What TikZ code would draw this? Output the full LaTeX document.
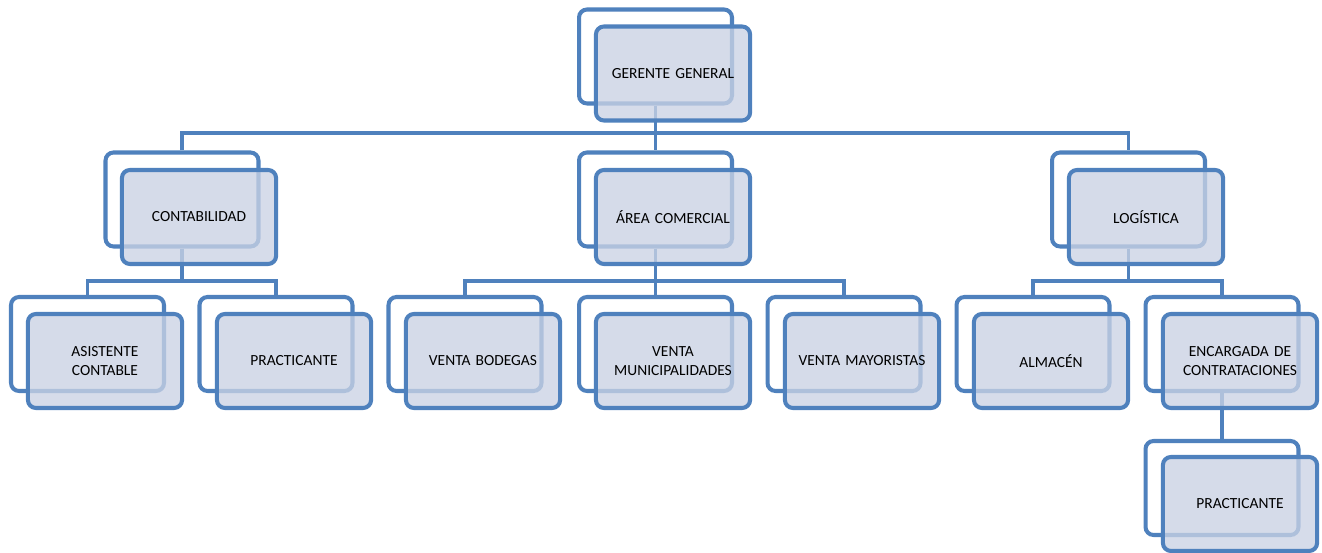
\documentclass[tikz,border=0pt]{standalone}
\usepackage{fontspec}
\setmainfont{Carlito}
\definecolor{orgblue}{RGB}{79,129,189}
\definecolor{orgfill}{RGB}{202,210,228}
\begin{document}
\begin{tikzpicture}[x=0.02cm, y=-0.02cm,
    back/.style ={rectangle, draw=orgblue, line width=2.3pt, fill=white,
      rounded corners=0.16cm, minimum width=3.06cm, minimum height=1.88cm},
    front/.style ={back, fill=orgfill, fill opacity=0.78, text opacity=1,
      text=black, text width=2.85cm, align=center,
      font=\fontsize{8.8}{10.4}\selectfont},
    link/.style ={draw=orgblue, line width=1.8pt}]
   \useasboundingbox (0,0) rectangle (1322,553);

   % back frames
   \node[back] (gg)    at (655.5,56.5) {};
   \node[back] (cont)  at (182,199.5)  {};
   \node[back] (com)   at (655.5,199.5) {};
   \node[back] (log)   at (1128.5,199.5) {};
   \node[back] (asis)  at (87.5,344)   {};
   \node[back] (prac)  at (276,344)    {};
   \node[back] (vbod)  at (465,344)    {};
   \node[back] (vmun)  at (655.5,344)  {};
   \node[back] (vmay)  at (844,344)    {};
   \node[back] (alm)   at (1033,344)   {};
   \node[back] (enc)   at (1222,344)   {};
   \node[back] (pracb) at (1222,488)   {};

   \coordinate (bus)  at (655.5,133);
   \coordinate (cbus) at (182,281);
   \coordinate (abus) at (655.5,281);
   \coordinate (lbus) at (1128.5,281);

   \draw[link] (gg.south) to (com.north);
   \draw[link] (cont.north) |- (bus) -| (log.north);
   \draw[link] (cont.south) to (cbus);
   \draw[link] (asis.north) |- (cbus) -| (prac.north);
   \draw[link] (com.south) to (vmun.north);
   \draw[link] (vbod.north) |- (abus) -| (vmay.north);
   \draw[link] (log.south) to (lbus);
   \draw[link] (alm.north) |- (lbus) -| (enc.north);
   \draw[link] (enc.south) to (pracb.north);

   % front boxes
   \node[front] (ggf)    at (673,73.5) {GERENTE GENERAL};
   \node[front] (contf)  at (199,217)  {CONTABILIDAD};
   \node[front] (comf)   at (673,217)  {ÁREA COMERCIAL};
   \node[front] (logf)   at (1146,217) {LOGÍSTICA};
   \node[front] (asisf)  at (105,361)  {ASISTENTE\\CONTABLE};
   \node[front] (pracf)  at (294,361)  {PRACTICANTE};
   \node[front] (vbodf)  at (483,361)  {VENTA BODEGAS};
   \node[front] (vmunf)  at (673,361)  {VENTA\\MUNICIPALIDADES};
   \node[front] (vmayf)  at (862,361)  {VENTA MAYORISTAS};
   \node[front] (almf)   at (1051,361) {ALMACÉN};
   \node[front] (encf)   at (1240,361) {ENCARGADA DE\\CONTRATACIONES};
   \node[front] (pracbf) at (1240,504) {PRACTICANTE};
\end{tikzpicture}
\end{document}
